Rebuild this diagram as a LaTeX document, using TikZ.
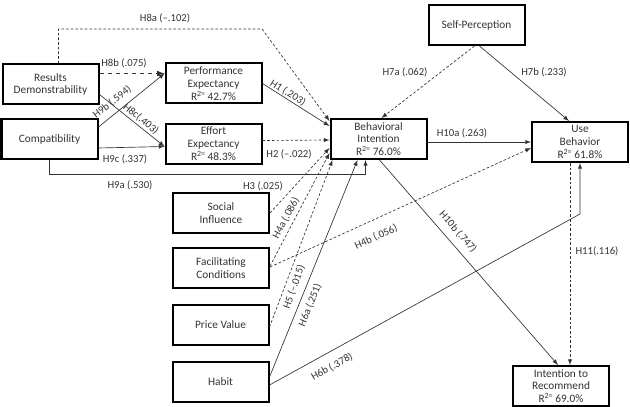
\documentclass[tikz,border=0pt]{standalone}
\usepackage{fontspec}
\setmainfont{Carlito}
\usepackage{tikz}
\usetikzlibrary{arrows,calc}

\tikzset{
  construct/.style={draw, line width=1.5pt, minimum width=72pt, minimum height=30pt,
    inner sep=0pt, align=center, text=black!80, font=\fontsize{8.5}{9.6}\selectfont},
  lbl/.style={inner sep=0pt, text=black!80, font=\fontsize{8}{9}\selectfont},
  path/.style={->, >=latex, line width=0.5pt, draw=black!80},
  dep/.style={path, dash pattern=on 2pt off 1.5pt}
}

\begin{document}
\begin{tikzpicture}[x=0.75pt, y=-0.75pt]
  \useasboundingbox (0,0) rectangle (630,406);

  % constructs
  \node[construct] (rd) at (50.5,84.5) {Results\\Demonstrability};
  \node[construct] (co) at (49.5,139) {Compatibility};
  \node[construct] (pe) at (213.5,83.5) {Performance\\Expectancy\\R\textsuperscript{2=}\,42.7\%};
  \node[construct] (ee) at (213.5,143.5) {Effort\\Expectancy\\R\textsuperscript{2=}\,48.3\%};
  \node[construct] (si) at (221,213) {Social\\Influence};
  \node[construct] (fc) at (221,268) {Facilitating\\Conditions};
  \node[construct] (pv) at (220.5,325) {Price Value};
  \node[construct] (ha) at (220.5,382) {Habit};
  \node[construct] (bi) at (378.5,139) {Behavioral\\Intention\\R\textsuperscript{2=}\,76.0\%};
  \node[construct] (sp) at (476.5,25) {Self-Perception};
  \node[construct] (ub) at (580,142) {Use\\Behavior\\R\textsuperscript{2=}\,61.8\%};
  \node[construct] (ir) at (561,386) {Intention to\\Recommend\\R\textsuperscript{2=}\,69.0\%};

  % bends
  \coordinate (c8a) at (262,29);
  \coordinate (c6b) at ($(ub.south)+(0,51)$);

  % antecedents of PE and EE
  \draw[dep] ($(rd.north)+(8,0)$) |- (c8a) -- ($(bi.west)+(0,-18)$);
  \draw[path, dashed, line width=0.9pt] ($(rd.east)+(0,-11)$) -- ($(pe.west)+(0,-10)$);
  \draw[path] ($(co.east)+(0,-12)$) -- ($(pe.west)+(0,-10)$);
  \draw[path] ($(rd.east)+(0,10)$) -- ($(ee.west)+(0,3)$);
  \draw[path] ($(co.east)+(0,9)$) -- ($(ee.west)+(0,3)$);
  \draw[path] (co.south) -- ++(0,14) -| ($(bi.south)+(-13,0)$);

  % into behavioral intention
  \draw[path] (pe.east) -- ($(bi.west)+(0,-13)$);
  \draw[dep] ($(ee.east)+(0,-3)$) -- ($(bi.west)+(0,1)$);
  \draw[dep] (si.east) -- ($(bi.west)+(0,9)$);
  \draw[dep] ($(fc.east)+(0,-2)$) -- ($(bi.west)+(0,14)$);
  \draw[dep] ($(pv.east)+(0,2)$) -- ($(bi.south west)+(3,0)$);
  \draw[path] ($(ha.east)+(0,-5)$) -- ($(bi.south)+(-21,0)$);
  \draw[dep] ($(sp.south)+(-2,0)$) -- ($(bi.north)+(3,0)$);

  % into use behavior
  \draw[dep] ($(fc.east)+(0,-1)$) -- ($(ub.west)+(0,6)$);
  \draw[path] ($(ha.east)+(0,3)$) -- (c6b) -- (ub.south);
  \draw[path] ($(sp.south)+(3,0)$) -- ($(ub.north)+(-11,0)$);
  \draw[path] ($(bi.east)+(0,3)$) -- (ub.west);

  % into intention to recommend
  \draw[path] ($(bi.south)+(1,0)$) -- ($(ir.north)+(-3,0)$);
  \draw[dep] ($(ub.south)+(-10,0)$) -- ($(ir.north)+(9,0)$);

  % labels
  \node[lbl] (l8a) at (165,18) {H8a (--.102)};
  \node[lbl] (l8b) at (124,63) {H8b (.075)};
  \node[lbl, rotate=38] (l9b) at (112,102) {H9b (.594)};
  \node[lbl, rotate=-39] (l8c) at (141,119) {H8c(.403)};
  \node[lbl] (l9c) at (125,159) {H9c (.337)};
  \node[lbl] (l9a) at (130,185) {H9a (.530)};
  \node[lbl, rotate=-32] (l1) at (288,93) {H1 (.203)};
  \node[lbl] (l2) at (289,154) {H2 (--.022)};
  \node[lbl] (l3) at (263,186) {H3 (.025)};
  \node[lbl, rotate=62] (l4a) at (286,218) {H4a (.086)};
  \node[lbl, rotate=24] (l4b) at (376,237) {H4b (.056)};
  \node[lbl, rotate=70] (l5) at (294,287) {H5 (--.015)};
  \node[lbl, rotate=68] (l6a) at (310,305) {H6a (.251)};
  \node[lbl, rotate=29] (l6b) at (332,367) {H6b (.378)};
  \node[lbl] (l7a) at (405,72) {H7a (.062)};
  \node[lbl] (l7b) at (544,72) {H7b (.233)};
  \node[lbl] (l10a) at (462,133) {H10a (.263)};
  \node[lbl, rotate=-49] (l10b) at (458,232) {H10b (.747)};
  \node[lbl] (l11) at (597,251) {H11(.116)};
\end{tikzpicture}
\end{document}
